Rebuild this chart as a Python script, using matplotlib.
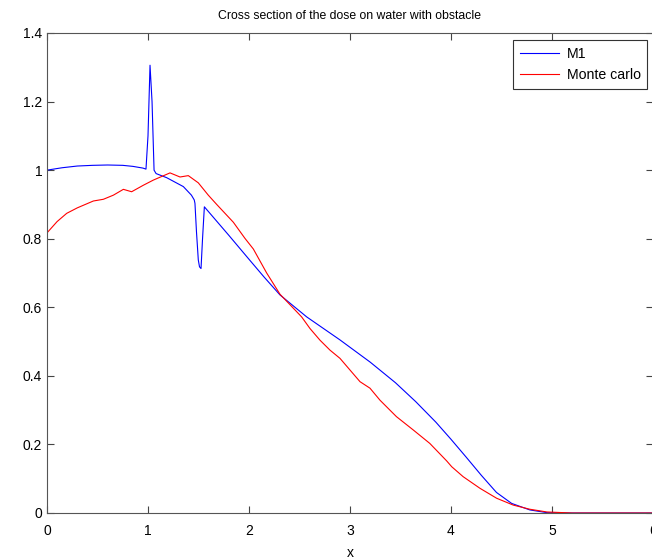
import matplotlib
matplotlib.use("Agg")
import matplotlib.pyplot as plt

# M1 curve (blue)
x_m1 = [0.0, 0.15, 0.3, 0.45, 0.6, 0.75, 0.85, 0.95, 0.98, 1.0, 1.02, 1.04, 1.06, 1.08,
        1.185, 1.35, 1.43, 1.458, 1.465, 1.48, 1.498, 1.51, 1.525, 1.54, 1.558,
        1.8, 2.0, 2.15, 2.307, 2.571, 2.9, 3.2, 3.45, 3.65, 3.85,
        4.0, 4.15, 4.3, 4.45, 4.6, 4.78, 4.95, 5.2, 5.6, 6.0]
y_m1 = [1.0, 1.007, 1.012, 1.014, 1.015, 1.014, 1.011, 1.006, 1.003, 1.1, 1.306, 1.2, 1.0, 0.99,
        0.978, 0.952, 0.927, 0.913, 0.903, 0.82, 0.738, 0.718, 0.713, 0.80, 0.893,
        0.81, 0.74, 0.688, 0.636, 0.572, 0.505, 0.44, 0.38, 0.325, 0.265,
        0.215, 0.163, 0.11, 0.06, 0.028, 0.009, 0.001, 0.0, 0.0, 0.0]

# Monte carlo curve (red)
x_mc = [0.0, 0.1, 0.195, 0.3, 0.459, 0.558, 0.657, 0.756, 0.838, 0.954, 1.053, 1.218,
        1.317, 1.399, 1.498, 1.597, 1.68, 1.845, 1.96, 2.043, 2.175, 2.307, 2.521, 2.604, 2.703,
        2.802, 2.901, 3.0, 3.099, 3.198, 3.297, 3.46, 3.627, 3.79, 3.957, 4.007, 4.12,
        4.287, 4.452, 4.617, 4.78, 4.95, 5.2, 5.6, 6.0]
y_mc = [0.817, 0.85, 0.874, 0.89, 0.91, 0.915, 0.927, 0.944, 0.937, 0.956, 0.971, 0.992,
        0.98, 0.984, 0.963, 0.927, 0.9, 0.848, 0.801, 0.77, 0.70, 0.638, 0.572, 0.538, 0.504,
        0.475, 0.451, 0.417, 0.383, 0.364, 0.329, 0.281, 0.242, 0.203, 0.152, 0.135, 0.106,
        0.072, 0.043, 0.023, 0.011, 0.003, 0.0, 0.0, 0.0]

plt.rcParams['font.family'] = ['Liberation Sans', 'DejaVu Sans']
plt.rcParams['font.size'] = 10

fig = plt.figure(figsize=(6.52, 5.60), dpi=100)
ax = fig.add_axes([47 / 652, 47 / 560, 606 / 652, 480 / 560])

ax.plot(x_m1, y_m1, color='blue', linewidth=0.8, label='M1')
ax.plot(x_mc, y_mc, color='red', linewidth=0.8, label='Monte carlo')

ax.set_xlim(0, 6)
ax.set_ylim(0, 1.4)
ax.set_xticks([0, 1, 2, 3, 4, 5, 6])
ax.set_yticks([0, 0.2, 0.4, 0.6, 0.8, 1.0, 1.2, 1.4])
ax.set_yticklabels(['0', '0.2', '0.4', '0.6', '0.8', '1', '1.2', '1.4'])
ax.tick_params(direction='in', top=True, right=True, length=5, width=0.8,
               color='#444444')
ax.tick_params(axis='x', pad=8)
ax.tick_params(axis='y', pad=3.5)
for s in ax.spines.values():
    s.set_color('#555555')
    s.set_linewidth(0.8)

ax.set_title('Cross section of the dose on water with obstacle', fontsize=8.8, pad=10)
ax.set_xlabel('x', labelpad=6)

leg = ax.legend(loc='upper right', bbox_to_anchor=(0.990, 0.985), borderaxespad=0,
                fancybox=False, framealpha=1, edgecolor='#333333', handlelength=2.8,
                handletextpad=0.5, fontsize=10.2, borderpad=0.45, labelspacing=0.55)
leg.get_frame().set_linewidth(0.8)

fig.savefig('out.png', dpi=100)
